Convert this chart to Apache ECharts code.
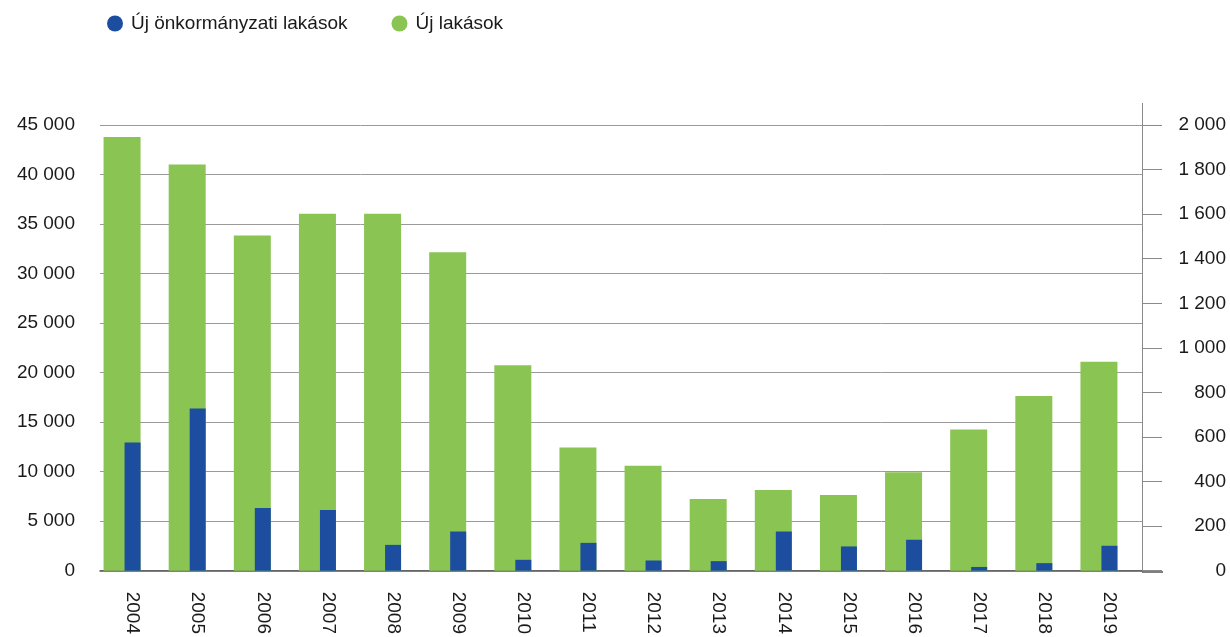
<!DOCTYPE html>
<html>
<head>
<meta charset="utf-8">
<script src="https://cdn.jsdelivr.net/npm/echarts@6/dist/echarts.min.js"></script>
<style>html,body{margin:0;padding:0;background:#fff;}#c{width:1230px;height:637px;}</style>
</head>
<body>
<div id="c"></div>
<script>
const years = ['2004','2005','2006','2007','2008','2009','2010','2011','2012','2013','2014','2015','2016','2017','2018','2019'];
const ujLakasok = [43800, 41000, 33850, 36050, 36050, 32150, 20750, 12450, 10600, 7250, 8150, 7650, 9950, 14250, 17650, 21100];
const onkormanyzati = [575, 728, 282, 273, 116, 176, 49, 125, 46, 43, 176, 109, 139, 17, 34, 112];
const seriesNames = ['Új önkormányzati lakások', 'Új lakások'];

const FONT = 'Liberation Sans, Arial, sans-serif';
const FS = 19;
const fmt = v => String(v).replace(/\B(?=(\d{3})+(?!\d))/g, ' ');

const GRID = {left: 100, right: 88, top: 125, bottom: 65};
const W = 1230, H = 637;
const axisX = W - GRID.right, baseY = H - GRID.bottom;

const chart = echarts.init(document.getElementById('c'), null, {renderer: 'canvas'});
chart.setOption({
  animation: false,
  backgroundColor: '#fff',
  textStyle: {fontFamily: FONT},
  legend: {
    left: 102, top: 9,
    itemWidth: 16, itemHeight: 16, itemGap: 44,
    icon: 'circle',
    textStyle: {fontSize: FS, color: '#1a1a1a', fontFamily: FONT, padding: [0, 0, 0, 3]},
    data: seriesNames
  },
  grid: Object.assign({containLabel: false}, GRID),
  graphic: [
    {type: 'line', silent: true, shape: {x1: axisX + 0.5, y1: GRID.top - 22, x2: axisX + 0.5, y2: GRID.top}, style: {stroke: '#8a8a8a', lineWidth: 1}},
    {type: 'line', silent: true, shape: {x1: axisX, y1: baseY, x2: axisX + 21, y2: baseY}, style: {stroke: '#555', lineWidth: 1.5}}
  ],
  xAxis: {
    type: 'category',
    data: years,
    axisLine: {show: true, lineStyle: {color: '#555', width: 1.5}},
    axisTick: {show: false},
    axisLabel: {interval: 0, rotate: -90, margin: 21, fontSize: FS, color: '#1a1a1a', fontFamily: FONT}
  },
  yAxis: [
    {
      type: 'value', min: 0, max: 45000, interval: 5000, position: 'left',
      axisLine: {show: false}, axisTick: {show: false},
      axisLabel: {margin: 25, fontSize: FS, color: '#1a1a1a', fontFamily: FONT, formatter: fmt},
      splitLine: {show: true, lineStyle: {color: '#9a9a9a', width: 1}}
    },
    {
      type: 'value', min: 0, max: 2000, interval: 200, position: 'right',
      axisLine: {show: true, lineStyle: {color: '#8a8a8a', width: 1}},
      axisTick: {show: true, inside: false, length: 20, lineStyle: {color: '#8a8a8a'}},
      axisLabel: {margin: 84, align: 'right', fontSize: FS, color: '#1a1a1a', fontFamily: FONT, formatter: fmt},
      splitLine: {show: false}
    }
  ],
  series: [
    {
      name: seriesNames[0], type: 'bar', yAxisIndex: 1, z: 3,
      data: onkormanyzati, barWidth: 16, barGap: '-231.25%',
      itemStyle: {color: '#1c4d9f'}
    },
    {
      name: seriesNames[1], type: 'bar', yAxisIndex: 0, z: 2,
      data: ujLakasok, barWidth: 37, barGap: '-231.25%',
      itemStyle: {color: '#8ac553'}
    }
  ]
});
</script>
</body>
</html>
